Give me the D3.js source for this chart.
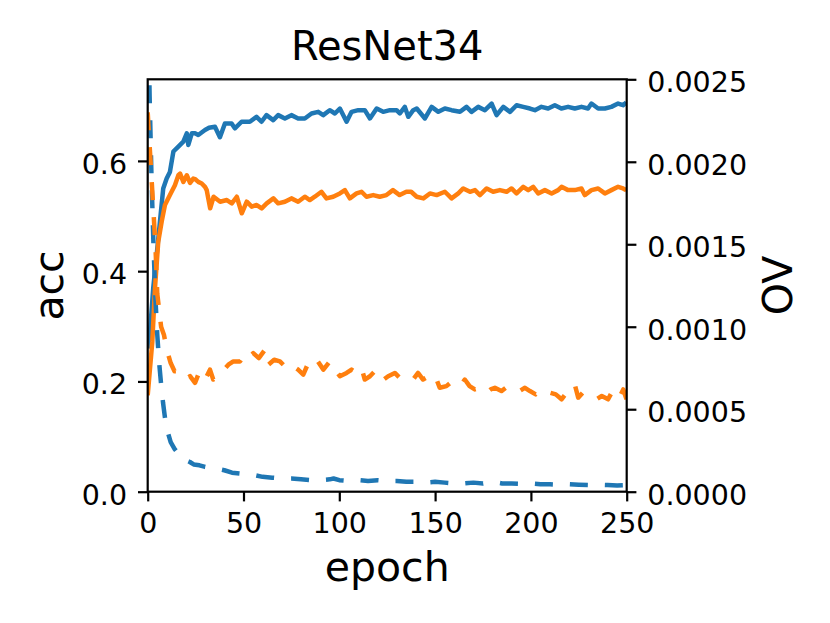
<!DOCTYPE html>
<html>
<head>
<meta charset="utf-8">
<script src="https://cdn.jsdelivr.net/npm/d3@7"></script>
<style>
  html, body { margin: 0; padding: 0; background: #fff; }
  svg { display: block; font-family: "DejaVu Sans", sans-serif; }
</style>
</head>
<body>
<svg id="chart" width="830" height="623"></svg>
<script>
// ---------------- DATA ----------------
const title = "ResNet34";
const xLabel = "epoch";
const yLeftLabel = "acc";
const yRightLabel = "OV";

const xTicks = [0, 50, 100, 150, 200, 250];
const yLeftTicks = [0.0, 0.2, 0.4, 0.6];
const yRightTicks = [0.0000, 0.0005, 0.0010, 0.0015, 0.0020, 0.0025];

// accuracy, blue series (solid)
const accBlueEpochs = [0,1.2,2.9,4.7,6.4,8.1,9.9,11.6,13.4,16,18.6,20.4,21.2,23,24.7,26.4,29.9,32,35.1,37.7,40.3,43.8,45.5,49,53.3,56.8,59.4,62,65.5,68.1,71.6,75,78.5,82,85.5,89,91.6,95,97.7,100.3,103.8,106.4,109.9,113.3,116,119.5,122.9,126.4,129.9,131.6,134.2,136,138.6,140.4,144.7,148.2,151.7,155.1,158.6,163,166.4,169,172.5,176,179.5,182.1,185.6,189.1,192.5,196,199.5,202.1,205.5,209,212.5,215.9,219.4,222.9,226.4,229.8,231.6,235.1,238.6,242,245.5,248.1,249.8];
const accBlue = [0.26,0.29,0.37,0.43,0.49,0.55,0.568,0.58,0.617,0.626,0.635,0.65,0.629,0.65,0.65,0.647,0.656,0.66,0.662,0.643,0.668,0.668,0.659,0.671,0.671,0.68,0.671,0.683,0.674,0.683,0.677,0.683,0.677,0.677,0.686,0.689,0.683,0.692,0.686,0.695,0.671,0.689,0.692,0.692,0.677,0.695,0.689,0.692,0.692,0.686,0.698,0.68,0.692,0.695,0.677,0.698,0.689,0.695,0.692,0.689,0.698,0.689,0.698,0.692,0.704,0.683,0.698,0.689,0.701,0.698,0.695,0.692,0.698,0.695,0.701,0.695,0.698,0.695,0.698,0.695,0.704,0.695,0.695,0.698,0.704,0.701,0.706];

// accuracy, orange series (solid)
const accOrangeEpochs = [0,2.4,3.8,5.5,7.3,9,11.6,14.2,16,16.9,18.6,20.4,22.1,23.8,24.7,26.4,28.2,29.9,30.8,32.6,34.4,37.8,41.3,43.9,46.5,49.1,51.7,54.3,56.9,59.5,62.1,65.6,68.1,71.6,75,78.5,82,84.6,87.2,90.7,93.3,96.8,100.3,102.9,105.5,109,111.6,114.2,117.7,121.1,124.6,128,131.5,135,137.5,140.4,143.9,147.3,150.8,155.1,158.6,162.1,164.7,168.2,170.8,173.4,176.9,180.3,183.8,187.3,189.9,192.5,196,198.6,201.2,203.8,207.3,210.8,214.2,216,219.4,222.9,226.4,228.1,231.6,235.1,238.6,242,245.5,248.1,249.8];
const accOrange = [0.175,0.272,0.369,0.453,0.49,0.52,0.538,0.556,0.574,0.577,0.562,0.574,0.56,0.568,0.567,0.562,0.559,0.553,0.547,0.514,0.535,0.526,0.529,0.523,0.535,0.505,0.526,0.517,0.52,0.514,0.523,0.532,0.523,0.526,0.532,0.526,0.535,0.529,0.535,0.544,0.532,0.535,0.541,0.547,0.532,0.541,0.544,0.535,0.538,0.535,0.538,0.547,0.538,0.544,0.544,0.535,0.532,0.541,0.538,0.544,0.532,0.541,0.55,0.544,0.547,0.538,0.55,0.544,0.547,0.544,0.55,0.541,0.553,0.547,0.553,0.541,0.547,0.541,0.547,0.553,0.547,0.547,0.55,0.538,0.547,0.55,0.541,0.547,0.553,0.55,0.547];

// OV, blue series (dashed, right axis)
const ovBlueEpochs = [0,1,2,3,4,5,6,7,8,9,10,11,12,14,16,18,20,22,24,27,30,33,36,40,44,48,52,56,60,65,70,75,80,85,90,95,97,100,105,110,115,120,125,130,135,140,145,150,155,160,165,170,175,180,185,190,195,200,205,210,215,220,225,230,235,240,245,250];
const ovBlue = [0.0031,0.0024,0.0019,0.0015,0.00118,0.00095,0.00078,0.00065,0.00054,0.00045,0.00038,0.00034,0.0003,0.00026,0.00023,0.00022,0.00019,0.00018,0.000165,0.00016,0.00015,0.000145,0.00014,0.00013,0.000115,0.00011,0.0001,0.0001,0.00009,0.000085,0.00008,0.00008,0.000075,0.00007,0.00007,0.000075,0.00008,0.00007,0.000065,0.00007,0.000065,0.00007,0.000065,0.000065,0.00006,0.00006,0.000055,0.00006,0.000055,0.00005,0.00005,0.000055,0.00005,0.00006,0.00005,0.00005,0.000048,0.00005,0.000045,0.000045,0.000042,0.000045,0.000042,0.00004,0.000042,0.00004,0.000038,0.00004];

// OV, orange series (dashed, right axis)
const ovOrangeEpochs = [0,1,2,3,4,5,6,7,8.5,10,12,14,15.1,17.7,19.5,22.1,24.7,26.4,27.3,30,32.5,34.2,36.9,39,42.1,44.7,48.2,50.8,53.4,55.1,58,61.2,63,66,69,71.6,74,76,78.5,81.2,83.8,86,88.2,91.7,95.1,97.7,100.3,103.8,106.4,109,111.6,113.3,116,118.5,122,125.5,129,132.4,135.5,138.5,141.1,143.7,146.7,149.8,152.4,155.9,158,160.3,163,165.5,168,170.7,173.5,176.8,179,181.2,184.6,188.1,191.6,194,196.9,199.5,202.5,205.5,209.9,213,216,218.6,222.9,224.7,227,229.9,232,234.2,237,240.3,242.1,244.7,246.5,248.2,249.9];
const ovOrange = [0.0023,0.0021,0.0019,0.0017,0.0015,0.0012,0.0011,0.001,0.00095,0.00086,0.00078,0.00073,0.00073,0.00071,0.00068,0.0007,0.00066,0.00071,0.00067,0.00068,0.00074,0.00068,0.00071,0.00073,0.00077,0.00079,0.00079,0.00084,0.00082,0.00084,0.00081,0.00086,0.00077,0.0008,0.00079,0.00076,0.00078,0.00076,0.00074,0.00071,0.00078,0.00077,0.0008,0.00074,0.00079,0.00074,0.0007,0.00072,0.00074,0.00072,0.00075,0.00068,0.0007,0.00073,0.00067,0.0007,0.00072,0.00068,0.00069,0.00068,0.00072,0.00068,0.0007,0.00071,0.00063,0.00064,0.00066,0.00066,0.00064,0.00068,0.00064,0.00062,0.00063,0.0006,0.00062,0.00063,0.00061,0.00064,0.00062,0.00061,0.00063,0.00061,0.00059,0.00062,0.0006,0.00059,0.00056,0.0006,0.00065,0.00057,0.0006,0.00059,0.00058,0.00056,0.00058,0.00056,0.0006,0.00056,0.00058,0.00062,0.00056];

// ---------------- CHART ----------------
const W = 830, H = 623;
const M = { left: 147.7, top: 79.3, right: 626.7, bottom: 491.7 };
const BLUE = "#1f77b4", ORANGE = "#ff7f0e";
const tickFont = 28.5, labelFont = 41, titleFont = 40;
const LW = 4.5;

const svg = d3.select("#chart");
const x = d3.scaleLinear().domain([0, 250]).range([M.left, M.right]);
const yL = d3.scaleLinear().domain([0, 0.748]).range([M.bottom, M.top]);
const yR = d3.scaleLinear().domain([0, 0.0025]).range([M.bottom, M.top]);

svg.append("defs").append("clipPath").attr("id", "plotclip")
  .append("rect").attr("x", M.left).attr("y", M.top)
  .attr("width", M.right - M.left).attr("height", M.bottom - M.top);

const plot = svg.append("g").attr("clip-path", "url(#plotclip)");

function series(xs, ys) { return xs.map((e, i) => [e, ys[i]]); }

const lineL = d3.line().x(d => x(d[0])).y(d => yL(d[1]));
const lineR = d3.line().x(d => x(d[0])).y(d => yR(d[1]));

plot.append("path").datum(series(accBlueEpochs, accBlue))
  .attr("d", lineL).attr("fill", "none").attr("stroke", BLUE)
  .attr("stroke-width", LW).attr("stroke-linejoin", "round").attr("stroke-linecap", "butt");
plot.append("path").datum(series(accOrangeEpochs, accOrange))
  .attr("d", lineL).attr("fill", "none").attr("stroke", ORANGE)
  .attr("stroke-width", LW).attr("stroke-linejoin", "round").attr("stroke-linecap", "butt");
plot.append("path").datum(series(ovBlueEpochs, ovBlue))
  .attr("d", lineR).attr("fill", "none").attr("stroke", BLUE)
  .attr("stroke-width", LW).attr("stroke-dasharray", "18,17")
  .attr("stroke-linejoin", "round").attr("stroke-linecap", "butt");
plot.append("path").datum(series(ovOrangeEpochs, ovOrange))
  .attr("d", lineR).attr("fill", "none").attr("stroke", ORANGE)
  .attr("stroke-width", LW).attr("stroke-dasharray", "18,17")
  .attr("stroke-linejoin", "round").attr("stroke-linecap", "butt");

// axes
const tickLen = 9.7, pad = 10;
function styleAxis(g) {
  g.select(".domain").remove();
  g.selectAll(".tick line").attr("stroke", "#000").attr("stroke-width", 2.2);
  g.selectAll(".tick text").attr("fill", "#000").attr("font-size", tickFont)
    .attr("font-family", "DejaVu Sans");
}

const gx = svg.append("g").attr("transform", `translate(0,${M.bottom})`)
  .call(d3.axisBottom(x).tickValues(xTicks).tickFormat(d3.format("d"))
    .tickSizeInner(tickLen).tickSizeOuter(0).tickPadding(pad));
styleAxis(gx);
gx.selectAll(".tick text").attr("dy", null).attr("y", 533.3 - M.bottom);

const gyl = svg.append("g").attr("transform", `translate(${M.left},0)`)
  .call(d3.axisLeft(yL).tickValues(yLeftTicks).tickFormat(d3.format(".1f"))
    .tickSizeInner(tickLen).tickSizeOuter(0).tickPadding(pad));
styleAxis(gyl);
gyl.selectAll(".tick text").attr("dy", null).attr("y", 12.4).attr("x", -(M.left - 127));

const gyr = svg.append("g").attr("transform", `translate(${M.right},0)`)
  .call(d3.axisRight(yR).tickValues(yRightTicks).tickFormat(d3.format(".4f"))
    .tickSizeInner(tickLen).tickSizeOuter(0).tickPadding(pad));
styleAxis(gyr);
gyr.selectAll(".tick text").attr("dy", null).attr("y", 12.4).attr("x", 647.3 - M.right);

// frame
svg.append("rect").attr("x", M.left).attr("y", M.top)
  .attr("width", M.right - M.left).attr("height", M.bottom - M.top)
  .attr("fill", "none").attr("stroke", "#000").attr("stroke-width", 2.2);

// texts
svg.append("text").attr("x", (M.left + M.right) / 2).attr("y", 60)
  .attr("text-anchor", "middle").attr("font-size", titleFont).text(title);
svg.append("text").attr("x", (M.left + M.right) / 2).attr("y", 580.7)
  .attr("text-anchor", "middle").attr("font-size", labelFont).text(xLabel);
svg.append("text").attr("transform", `translate(63.3,${(M.top + M.bottom) / 2}) rotate(-90)`)
  .attr("text-anchor", "middle").attr("font-size", labelFont).text(yLeftLabel);
svg.append("text").attr("transform", `translate(791.7,${(M.top + M.bottom) / 2}) rotate(-90)`)
  .attr("text-anchor", "middle").attr("font-size", labelFont).text(yRightLabel);
</script>
</body>
</html>
